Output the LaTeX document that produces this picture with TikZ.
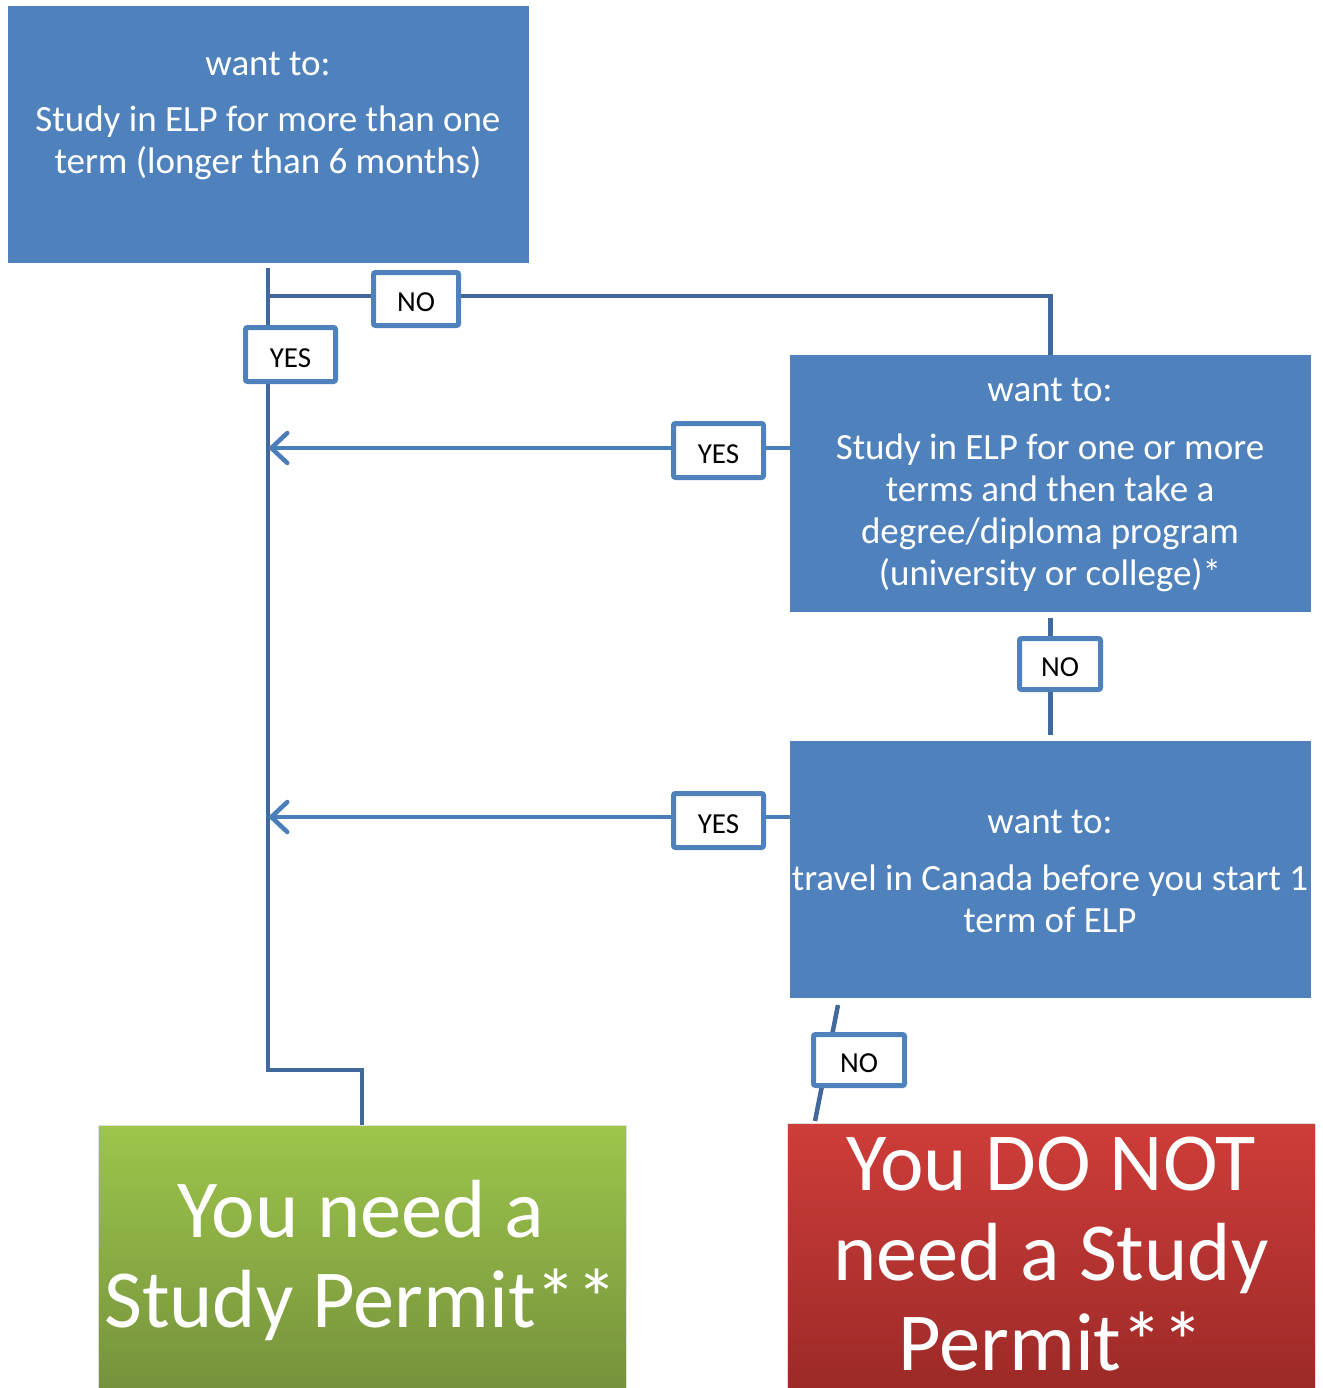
\documentclass[tikz,border=0pt]{standalone}
\usepackage{fontspec}
\setmainfont{Carlito}
\usetikzlibrary{arrows.meta,backgrounds}
\definecolor{boxblue}{HTML}{4F81BD}
\definecolor{connblue}{HTML}{41699B}
\definecolor{arrblue}{HTML}{4A7EBB}
\definecolor{gtop}{HTML}{9DC54B}
\definecolor{gbot}{HTML}{76923C}
\definecolor{rtop}{HTML}{CE3D39}
\definecolor{rbot}{HTML}{9C2A28}
\newcommand{\lbltxt}[1]{\raisebox{-3.5pt}[\height][\depth]{#1}}
\tikzset{
  qbox/.style={rectangle, fill=boxblue, draw=none, inner sep=0pt},
  qtext/.style={text=white, align=center, inner sep=0pt, font=\fontsize{37}{42}\selectfont},
  lbl/.style={rectangle, rounded corners=2pt, draw=boxblue, line width=5pt, fill=white, inner sep=0pt,
    minimum width=90pt, minimum height=54pt, font=\fontsize{29}{30}\selectfont, text=black},
  conn/.style={draw=connblue, line width=4.5pt},
  arr/.style={draw=arrblue, line width=4.5pt, -{Straight Barb[length=16pt,width=30pt,line cap=round,line width=4.5pt]}},
  bigtext/.style={text=white, align=center, inner sep=0pt, font=\fontsize{82.5}{90}\selectfont}
}
\begin{document}
\begin{tikzpicture}[x=1pt,y=-1pt]
\useasboundingbox (0,0) rectangle (1322,1388);
% main boxes
\node[qbox, minimum width=521pt, minimum height=257pt] (box1) at (268.5,134.5) {};
\node[qtext] (t1) at (268,116) {want to:\\[14pt]Study in ELP for more than one\\term (longer than 6 months)};
\node[qbox, minimum width=521pt, minimum height=257pt] (box2) at (1050.5,483.5) {};
\node[qtext] (t2) at (1050,485) {want to:\\[16pt]Study in ELP for one or more\\terms and then take a\\degree/diploma program\\(university or college)*};
\node[qbox, minimum width=521pt, minimum height=257pt] (box3) at (1050.5,869.5) {};
\node[qtext] (t3) at (1050,871) {want to:\\[15pt]travel in Canada before you start 1\\term of ELP};
% result boxes
\node[rectangle, inner sep=0pt, minimum width=528pt, minimum height=263pt, top color=gtop, bottom color=gbot, draw=gray!25, line width=0.8pt] (green) at (362,1256.5) {};
\node[bigtext] (gt) at (361,1260) {You need a\\Study Permit**};
\node[rectangle, inner sep=0pt, minimum width=528pt, minimum height=265pt, top color=rtop, bottom color=rbot, draw=gray!25, line width=0.8pt] (red) at (1051,1255.5) {};
\node[bigtext] (rt) at (1051,1254) {You DO NOT\\need a Study\\Permit**};
% labels
\node[lbl, minimum width=90pt, minimum height=54pt] (yes1) at (290.5,354.5) {\lbltxt{YES}};
\node[lbl, minimum width=85pt, minimum height=53pt] (no1) at (416,299) {\lbltxt{NO}};
\node[lbl, minimum width=90pt, minimum height=54pt] (yes2) at (718.5,450.5) {\lbltxt{YES}};
\node[lbl, minimum width=81pt, minimum height=51pt] (no2) at (1060,664) {\lbltxt{NO}};
\node[lbl, minimum width=90pt, minimum height=54pt] (yes3) at (718.5,820.5) {\lbltxt{YES}};
\node[lbl, minimum width=91pt, minimum height=51pt] (no3) at (859,1060) {\lbltxt{NO}};
% coordinates
\coordinate (top) at (268,268);
\coordinate (b1) at (268,296);
\coordinate (a2) at (268,448);
\coordinate (a3) at (268,817);
\coordinate (bend) at (268,1070);
\coordinate (c1) at (838,1005);
\coordinate (c2) at (815,1121);
\begin{scope}[on background layer]
\draw[conn] (top) -- (bend) -| (green.north);
\draw[conn] (b1) -| ([yshift=-6pt]box2.north);
\draw[conn] ([yshift=-6pt]box2.south) -- ([yshift=6pt]box3.north);
\draw[conn] (c1) -- (c2);
\draw[arr] (box2.west |- a2) -- (a2);
\draw[arr] (box3.west |- a3) -- (a3);
\end{scope}
\end{tikzpicture}
\end{document}
